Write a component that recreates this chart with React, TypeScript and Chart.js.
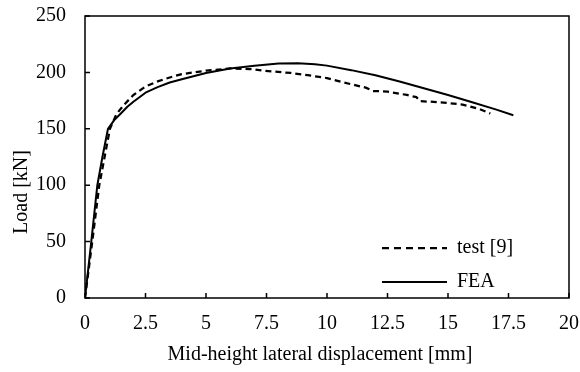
import React, { useEffect, useRef } from "react";
import { Chart, registerables } from "chart.js";

Chart.register(...registerables);

const FONT = "'Liberation Serif', 'Times New Roman', serif";

const testX = [0, 0.3, 0.59, 0.81, 1.03, 1.3, 1.6, 2, 2.5, 3, 3.5, 4, 5, 6, 6.8, 7.4, 8.5, 9.2, 10, 10.7, 11.6, 11.9, 12.5, 13.3, 13.7, 13.85, 14.7, 15.6, 16.3, 16.75];
const testY = [0, 50, 100, 125, 150, 163, 171, 180, 187.5, 192, 195.5, 198.5, 201.5, 203.5, 203, 201.5, 199.5, 197.5, 195, 191, 186.5, 183.5, 183, 180, 178, 174.5, 173.5, 171.5, 167.5, 163.5];

const feaX = [0, 0.26, 0.51, 0.72, 0.95, 1.2, 1.5, 1.75, 2, 2.5, 3, 3.5, 4, 5, 6, 7, 8, 8.8, 9.5, 10, 11, 12, 13, 14, 15, 16, 17, 17.7];
const feaY = [0, 50, 100, 125, 150, 157.5, 164, 169.5, 174, 182, 187, 191, 194, 199.5, 203.5, 206, 207.8, 208.2, 207.3, 206, 202, 197.5, 192, 186, 180, 173.5, 167, 162];

const xTicks = [0, 2.5, 5, 7.5, 10, 12.5, 15, 17.5, 20];
const yTicks = [0, 50, 100, 150, 200, 250];

const seriesNames = ["test [9]", "FEA"];
const xTitle = "Mid-height lateral displacement [mm]";
const yTitle = "Load [kN]";

const framePlugin = {
  id: "frame",
  afterDraw(chart: any) {
    const { ctx, chartArea } = chart;
    const xs = chart.scales.x;
    const ys = chart.scales.y;
    ctx.save();
    ctx.strokeStyle = "#000";
    ctx.lineWidth = 1.5;
    ctx.strokeRect(chartArea.left, chartArea.top, chartArea.right - chartArea.left, chartArea.bottom - chartArea.top);
    ctx.beginPath();
    xTicks.forEach((v) => {
      const px = xs.getPixelForValue(v);
      ctx.moveTo(px, chartArea.bottom);
      ctx.lineTo(px, chartArea.bottom - 5);
    });
    yTicks.forEach((v) => {
      const py = ys.getPixelForValue(v);
      ctx.moveTo(chartArea.left, py);
      ctx.lineTo(chartArea.left + 5, py);
    });
    ctx.stroke();

    // axis titles
    ctx.fillStyle = "#000";
    ctx.font = `20px ${FONT}`;
    ctx.textAlign = "center";
    ctx.textBaseline = "middle";
    ctx.fillText(xTitle, 320, 355);
    ctx.save();
    ctx.translate(22, 192);
    ctx.rotate(-Math.PI / 2);
    ctx.fillText(yTitle, 0, 0);
    ctx.restore();

    // legend
    ctx.textAlign = "left";
    ctx.lineWidth = 2.25;
    ctx.setLineDash([7, 5]);
    ctx.beginPath();
    ctx.moveTo(382, 248);
    ctx.lineTo(447, 248);
    ctx.stroke();
    ctx.setLineDash([]);
    ctx.lineWidth = 2;
    ctx.beginPath();
    ctx.moveTo(382, 282);
    ctx.lineTo(447, 282);
    ctx.stroke();
    ctx.fillText(seriesNames[0], 457, 248);
    ctx.fillText(seriesNames[1], 457, 282);
    ctx.restore();
  },
};

export default function App() {
  const ref = useRef<HTMLCanvasElement>(null);
  useEffect(() => {
    if (!ref.current) return;
    const chart = new Chart(ref.current, {
      type: "line",
      data: {
        datasets: [
          {
            label: seriesNames[0],
            data: testX.map((x, i) => ({ x, y: testY[i] })),
            borderColor: "#000",
            borderWidth: 2.25,
            borderDash: [6, 4],
            pointRadius: 0,
            tension: 0,
            borderJoinStyle: "round",
            fill: false,
          },
          {
            label: seriesNames[1],
            data: feaX.map((x, i) => ({ x, y: feaY[i] })),
            borderColor: "#000",
            borderWidth: 2,
            pointRadius: 0,
            tension: 0,
            borderJoinStyle: "round",
            fill: false,
          },
        ],
      },
      options: {
        responsive: false,
        maintainAspectRatio: false,
        animation: false,
        layout: { padding: { left: 0, right: 11, top: 16, bottom: 0 } },
        plugins: { legend: { display: false }, tooltip: { enabled: false } },
        scales: {
          x: {
            type: "linear",
            min: 0,
            max: 20,
            afterBuildTicks: (s: any) => {
              s.ticks = xTicks.map((v) => ({ value: v }));
            },
            afterFit: (s: any) => {
              s.height = 74;
              s.paddingLeft = 0;
              s.paddingRight = 0;
            },
            grid: { display: false, drawTicks: false },
            border: { display: false },
            ticks: {
              color: "#000",
              padding: 14,
              maxRotation: 0,
              autoSkip: false,
              font: { family: FONT, size: 20 },
              callback: (v: any) => String(v),
            },
          },
          y: {
            type: "linear",
            min: 0,
            max: 250,
            afterBuildTicks: (s: any) => {
              s.ticks = yTicks.map((v) => ({ value: v }));
            },
            afterFit: (s: any) => {
              s.width = 85;
              s.paddingTop = 0;
              s.paddingBottom = 0;
            },
            grid: { display: false, drawTicks: false },
            border: { display: false },
            ticks: {
              color: "#000",
              padding: 19,
              autoSkip: false,
              font: { family: FONT, size: 20 },
              callback: (v: any) => String(v),
            },
          },
        },
      },
      plugins: [framePlugin],
    });
    return () => chart.destroy();
  }, []);
  return (
    <div style={{ position: "fixed", left: 0, top: 0, width: 580, height: 372, background: "#fff" }}>
      <canvas ref={ref} width={580} height={372} style={{ width: 580, height: 372 }} />
    </div>
  );
}
